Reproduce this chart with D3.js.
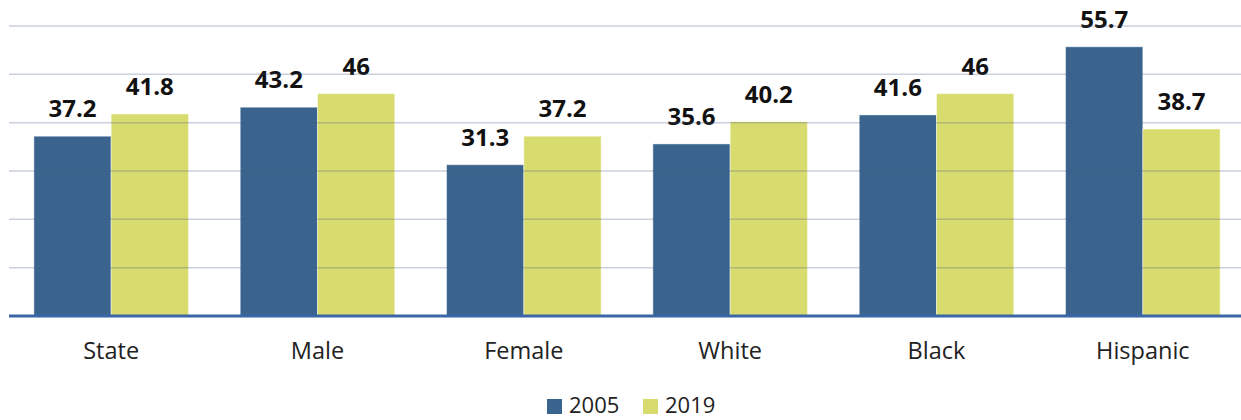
<!DOCTYPE html>
<html><head><meta charset="utf-8">
<script src="https://cdn.jsdelivr.net/npm/d3@7"></script>
<style>body{margin:0;background:#fff;}svg{display:block;font-family:"Open Sans",sans-serif;}</style>
</head><body><svg id="c" width="1241" height="420"></svg>
<script>
const categories = ["State","Male","Female","White","Black","Hispanic"];
const seriesNames = ["2005","2019"];
const values2005 = [37.2,43.2,31.3,35.6,41.6,55.7];
const values2019 = [41.8,46,37.2,40.2,46,38.7];
const yTicks = [0,10,20,30,40,50,60];
const colors = ["#3a648e","#d8dc6e"];

const svg = d3.select("#c");
const x0 = d3.scaleBand().domain(categories).range([8,1246]).paddingInner(0).paddingOuter(0);
const x1 = d3.scaleBand().domain(seriesNames).range([0,x0.bandwidth()]).paddingInner(0).paddingOuter(0.335);
const y = d3.scaleLinear().domain([0,60]).range([316,26]);

const data = categories.map((c,i)=>({cat:c, vals:[values2005[i],values2019[i]]}));

const g = svg.append("g");
const groups = g.selectAll("g.grp").data(data).join("g").attr("transform",d=>`translate(${x0(d.cat)},0)`);
groups.selectAll("rect").data(d=>d.vals.map((v,j)=>({s:seriesNames[j],v,j}))).join("rect")
  .attr("x",d=>x1(d.s)).attr("width",x1.bandwidth())
  .attr("y",d=>y(d.v)).attr("height",d=>y(0)-y(d.v))
  .attr("fill",d=>colors[d.j]).attr("stroke","rgba(255,255,255,0.45)").attr("stroke-width",1);

// gridlines drawn over bars
g.selectAll("line.grid").data(yTicks.filter(t=>t>0)).join("line")
  .attr("x1",9).attr("x2",1241).attr("y1",d=>y(d)).attr("y2",d=>y(d))
  .attr("stroke","rgba(70,90,130,0.28)").attr("stroke-width",1.5);

groups.selectAll("text.val").data(d=>d.vals.map((v,j)=>({s:seriesNames[j],v,j}))).join("text")
  .attr("x",d=>x1(d.s)+x1.bandwidth()/2).attr("y",d=>y(d.v)-19)
  .attr("text-anchor","middle").attr("font-size",24).attr("font-weight",700).attr("fill","#111")
  .text(d=>d.v);

// baseline
g.append("line").attr("x1",9).attr("x2",1241).attr("y1",y(0)).attr("y2",y(0))
  .attr("stroke","#3a66a8").attr("stroke-width",3);

// category labels
const xAxis = d3.axisBottom(x0).tickSize(0).tickPadding(0);
const ax = svg.append("g").attr("transform","translate(0,359)").call(xAxis);
ax.select(".domain").remove();
ax.selectAll("text").attr("font-size",23.5).attr("fill","#222").attr("font-family","'Open Sans',sans-serif").attr("dy","0").attr("y",0);

// legend
const legX = [547,643];
const leg = svg.append("g");
seriesNames.forEach((s,i)=>{
  leg.append("rect").attr("x",legX[i]).attr("y",399).attr("width",15).attr("height",15).attr("fill",colors[i]);
  leg.append("text").attr("x",legX[i]+22).attr("y",413).attr("font-size",22).attr("fill","#222").text(s);
});
</script></body></html>
